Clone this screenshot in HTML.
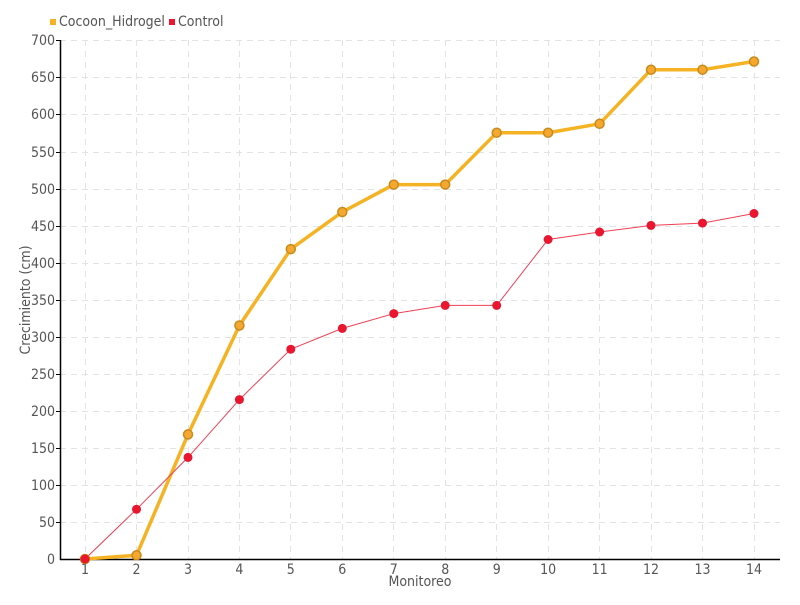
<!DOCTYPE html>
<html><head><meta charset="utf-8"><style>
body{margin:0;background:#fff;}
svg text{font-family:"DejaVu Sans Condensed","Liberation Sans Narrow","Liberation Sans",sans-serif;fill:#555;font-size:14px;}
</style></head><body>
<svg width="800" height="600" xmlns="http://www.w3.org/2000/svg">
<g stroke="#e3e3e3" stroke-dasharray="6,5" stroke-width="1">
<line x1="60" x2="780" y1="40.5" y2="40.5"/><line x1="60" x2="780" y1="77.5" y2="77.5"/><line x1="60" x2="780" y1="114.5" y2="114.5"/><line x1="60" x2="780" y1="152.5" y2="152.5"/><line x1="60" x2="780" y1="189.5" y2="189.5"/><line x1="60" x2="780" y1="226.5" y2="226.5"/><line x1="60" x2="780" y1="263.5" y2="263.5"/><line x1="60" x2="780" y1="300.5" y2="300.5"/><line x1="60" x2="780" y1="337.5" y2="337.5"/><line x1="60" x2="780" y1="374.5" y2="374.5"/><line x1="60" x2="780" y1="411.5" y2="411.5"/><line x1="60" x2="780" y1="448.5" y2="448.5"/><line x1="60" x2="780" y1="485.5" y2="485.5"/><line x1="60" x2="780" y1="522.5" y2="522.5"/>
<line y1="40" y2="559" x1="85.5" x2="85.5"/><line y1="40" y2="559" x1="136.5" x2="136.5"/><line y1="40" y2="559" x1="188.5" x2="188.5"/><line y1="40" y2="559" x1="239.5" x2="239.5"/><line y1="40" y2="559" x1="290.5" x2="290.5"/><line y1="40" y2="559" x1="342.5" x2="342.5"/><line y1="40" y2="559" x1="393.5" x2="393.5"/><line y1="40" y2="559" x1="445.5" x2="445.5"/><line y1="40" y2="559" x1="496.5" x2="496.5"/><line y1="40" y2="559" x1="548.5" x2="548.5"/><line y1="40" y2="559" x1="599.5" x2="599.5"/><line y1="40" y2="559" x1="651.5" x2="651.5"/><line y1="40" y2="559" x1="702.5" x2="702.5"/><line y1="40" y2="559" x1="754.5" x2="754.5"/>
</g>
<g stroke="#000" stroke-width="1.5">
<line x1="60.5" x2="60.5" y1="40" y2="560"/><line x1="60" x2="780" y1="559.5" y2="559.5"/>
</g>
<g stroke="#000" stroke-width="1">
<line x1="56" x2="60" y1="40.5" y2="40.5"/><line x1="56" x2="60" y1="77.5" y2="77.5"/><line x1="56" x2="60" y1="114.5" y2="114.5"/><line x1="56" x2="60" y1="152.5" y2="152.5"/><line x1="56" x2="60" y1="189.5" y2="189.5"/><line x1="56" x2="60" y1="226.5" y2="226.5"/><line x1="56" x2="60" y1="263.5" y2="263.5"/><line x1="56" x2="60" y1="300.5" y2="300.5"/><line x1="56" x2="60" y1="337.5" y2="337.5"/><line x1="56" x2="60" y1="374.5" y2="374.5"/><line x1="56" x2="60" y1="411.5" y2="411.5"/><line x1="56" x2="60" y1="448.5" y2="448.5"/><line x1="56" x2="60" y1="485.5" y2="485.5"/><line x1="56" x2="60" y1="522.5" y2="522.5"/>
</g>
<g text-anchor="end">
<text x="55" y="45">700</text><text x="55" y="82">650</text><text x="55" y="119">600</text><text x="55" y="157">550</text><text x="55" y="194">500</text><text x="55" y="231">450</text><text x="55" y="268">400</text><text x="55" y="305">350</text><text x="55" y="342">300</text><text x="55" y="379">250</text><text x="55" y="416">200</text><text x="55" y="453">150</text><text x="55" y="490">100</text><text x="55" y="527">50</text><text x="55" y="564">0</text>
</g>
<g text-anchor="middle">
<text x="85" y="574">1</text><text x="136.5" y="574">2</text><text x="188" y="574">3</text><text x="239.4" y="574">4</text><text x="290.8" y="574">5</text><text x="342.3" y="574">6</text><text x="393.8" y="574">7</text><text x="445.2" y="574">8</text><text x="496.7" y="574">9</text><text x="548.1" y="574">10</text><text x="599.6" y="574">11</text><text x="651" y="574">12</text><text x="702.5" y="574">13</text><text x="754" y="574">14</text>
<text x="420" y="586">Monitoreo</text>
<text transform="translate(30,300) rotate(-90)">Crecimiento (cm)</text>
</g>
<rect x="50" y="19" width="6" height="6" fill="#f5b324"/><text x="59" y="26">Cocoon_Hidrogel</text>
<rect x="169" y="19" width="6" height="6" fill="#e8162e"/><text x="178" y="26">Control</text>
<polyline fill="none" stroke="#f5b324" stroke-width="3.5" points="85,559 136.5,555.3 188,434.4 239.4,325.5 290.8,249.1 342.3,212 393.8,184.6 445.2,184.6 496.7,132.7 548.1,132.7 599.6,123.8 651,69.7 702.5,69.7 754,61.5"/>
<polyline fill="none" stroke="#ee4055" stroke-width="1" points="85,559 136.5,509.3 188,457.4 239.4,399.6 290.8,349.2 342.3,328.4 393.8,313.6 445.2,305.4 496.7,305.4 548.1,239.5 599.6,232 651,225.4 702.5,223.1 754,213.5"/>
<g fill="#f5a830" stroke="#c98a1a" stroke-width="1.5">
<circle cx="85" cy="559" r="4.5"/><circle cx="136.5" cy="555.3" r="4.5"/><circle cx="188" cy="434.4" r="4.5"/><circle cx="239.4" cy="325.5" r="4.5"/><circle cx="290.8" cy="249.1" r="4.5"/><circle cx="342.3" cy="212" r="4.5"/><circle cx="393.8" cy="184.6" r="4.5"/><circle cx="445.2" cy="184.6" r="4.5"/><circle cx="496.7" cy="132.7" r="4.5"/><circle cx="548.1" cy="132.7" r="4.5"/><circle cx="599.6" cy="123.8" r="4.5"/><circle cx="651" cy="69.7" r="4.5"/><circle cx="702.5" cy="69.7" r="4.5"/><circle cx="754" cy="61.5" r="4.5"/>
</g>
<g fill="#e8162e">
<circle cx="85" cy="559" r="4.5"/><circle cx="136.5" cy="509.3" r="4.5"/><circle cx="188" cy="457.4" r="4.5"/><circle cx="239.4" cy="399.6" r="4.5"/><circle cx="290.8" cy="349.2" r="4.5"/><circle cx="342.3" cy="328.4" r="4.5"/><circle cx="393.8" cy="313.6" r="4.5"/><circle cx="445.2" cy="305.4" r="4.5"/><circle cx="496.7" cy="305.4" r="4.5"/><circle cx="548.1" cy="239.5" r="4.5"/><circle cx="599.6" cy="232" r="4.5"/><circle cx="651" cy="225.4" r="4.5"/><circle cx="702.5" cy="223.1" r="4.5"/><circle cx="754" cy="213.5" r="4.5"/>
</g>
</svg>
</body></html>
